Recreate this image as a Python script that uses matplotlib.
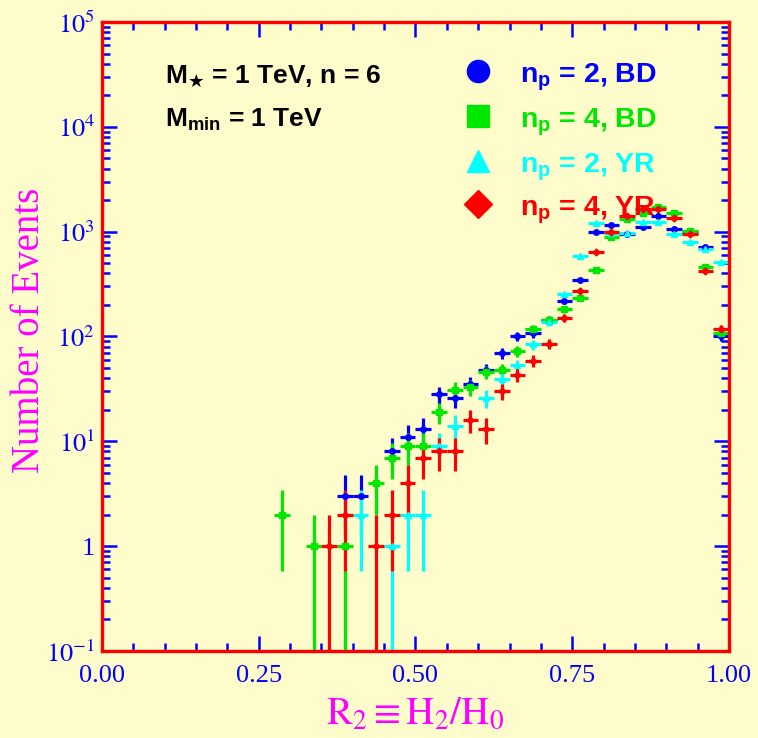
import numpy as np
import matplotlib
matplotlib.use("Agg")
import matplotlib.pyplot as plt
from matplotlib.ticker import FixedLocator, FixedFormatter, MultipleLocator, LogLocator, NullFormatter

plt.rcParams['font.family'] = ['Liberation Serif', 'DejaVu Serif']
plt.rcParams['mathtext.fontset'] = 'stix'
plt.rcParams['mathtext.rm'] = 'Liberation Sans'
plt.rcParams['mathtext.bf'] = 'Liberation Sans:bold'

# bin centres (bin width 0.025) and event counts, nan = empty bin
r2 = [0.2875, 0.3125, 0.3375, 0.3625, 0.3875, 0.4125, 0.4375, 0.4625, 0.4875,
      0.5125, 0.5375, 0.5625, 0.5875, 0.6125, 0.6375, 0.6625, 0.6875, 0.7125,
      0.7375, 0.7625, 0.7875, 0.8125, 0.8375, 0.8625, 0.8875, 0.9125, 0.9375,
      0.9625, 0.9875]
nan = np.nan
bd_np2 = [nan, nan, nan, nan, 3, 3, nan, 8, 11, 13, 28, 26, 35, 48, 69, 100, 107, 145,
          218, 346, 1000, 1150, 960, 1100, 1420, 1060, 1000, 710, 100]
bd_np4 = [2, nan, 1, nan, 1, nan, 4, 7, 9, 9, 19, 31, 33, 46, 48, 72, 117, 145,
          181, 233, 430, 880, 1330, 1500, 1730, 1500, 1010, 465, 107]
yr_np2 = [nan, nan, nan, nan, nan, 2, nan, 1, 2, 2, 9, 14, nan, 26, 39, 53, 84, 138,
          252, 591, 1215, 970, 970, 1240, 1240, 960, 805, 680, 518]
yr_np4 = [nan, nan, nan, 1, 2, nan, 1, 2, 4, 7, 8, 8, 16, 13, 30, 43, 59, 85,
          150, 272, 640, 1000, 1420, 1660, 1660, 1360, 946, 425, 118]
half_bin = 0.0125

series = [
    (bd_np2, '#0000ff', 'o', r'n$_{\mathbf{p}}$ = 2, BD'),
    (bd_np4, '#00e800', 's', r'n$_{\mathbf{p}}$ = 4, BD'),
    (yr_np2, '#00ffff', '^', r'n$_{\mathbf{p}}$ = 2, YR'),
    (yr_np4, '#ff0000', 'D', r'n$_{\mathbf{p}}$ = 4, YR'),
]

bg = '#fffccc'
fig = plt.figure(figsize=(7.58, 7.38), dpi=100, facecolor=bg)
ax = fig.add_axes([0.1346, 0.1179, 0.8271, 0.8523], facecolor=bg)

x = np.array(r2)
for counts, col, mk, lab in series:
    n = np.array(counts, dtype=float)
    ok = ~np.isnan(n)
    err = np.sqrt(n[ok])
    lo = np.minimum(err, n[ok] - 1e-3)
    ax.errorbar(x[ok], n[ok], yerr=[lo, err], xerr=half_bin, fmt=mk,
                ms=3.5 if mk == 'D' else 4,
                color=col, mec=col, elinewidth=2.3, capsize=0)

ax.set_yscale('log')
ax.set_xlim(0, 1)
ax.set_ylim(0.1, 1e5)

ax.xaxis.set_major_locator(FixedLocator([0, 0.25, 0.5, 0.75, 1.0]))
ax.xaxis.set_minor_locator(MultipleLocator(0.05))
ax.xaxis.set_major_formatter(FixedFormatter(['0.00', '0.25', '0.50', '0.75', '1.00']))

ydec = [0.1, 1, 10, 100, 1000, 1e4, 1e5]
ylabs = [r'$\mathrm{10^{-1}}$', '1', r'$\mathrm{10^{1}}$', r'$\mathrm{10^{2}}$',
         r'$\mathrm{10^{3}}$', r'$\mathrm{10^{4}}$', r'$\mathrm{10^{5}}$']
ax.yaxis.set_major_locator(FixedLocator(ydec))
ax.yaxis.set_major_formatter(FixedFormatter(ylabs))
ax.yaxis.set_minor_locator(LogLocator(base=10, subs=np.arange(2, 10)))
ax.yaxis.set_minor_formatter(NullFormatter())

ax.tick_params(which='both', direction='in', top=True, right=True, colors='#0000ff',
               labelsize=19)
ax.tick_params(which='major', length=11, width=1.8)
ax.tick_params(which='minor', length=5.5, width=1.8)
ax.tick_params(axis='x', pad=10)
ax.tick_params(axis='y', pad=5)

for s in ax.spines.values():
    s.set_color('#ff0000')
    s.set_linewidth(2.4)

ax.set_ylabel('Number of Events', color='#ff00ff', fontsize=28)
ax.yaxis.set_label_coords(-0.086, 0.51)
ax.set_xlabel(r'$\mathrm{R_2 \equiv H_2/H_0}$', color='#ff00ff', fontsize=28, labelpad=6)

def px_to_ax(py):
    return (651 - py) / 629.0

ax.text(0.10, px_to_ax(82), r'M$_{\bigstar}$ = 1 TeV, n = 6', transform=ax.transAxes,
        fontsize=19, fontweight='bold', family='Liberation Sans', color='black',
        math_fontfamily='dejavusans', va='baseline')
ax.text(0.10, px_to_ax(127), r'M$_{\mathbf{min}}$ = 1 TeV', transform=ax.transAxes,
        fontsize=19, fontweight='bold', family='Liberation Sans', color='black',
        math_fontfamily='custom', va='baseline')

rows = [82, 127, 172, 215]
for (counts, col, mk, lab), b in zip(series, rows):
    ax.plot([0.60], [px_to_ax(b - 11)], marker=mk, ms=16 if mk != 'D' else 14,
            color=col, transform=ax.transAxes, clip_on=False)
    ax.text(0.667, px_to_ax(b), lab, transform=ax.transAxes, fontsize=20.5,
            fontweight='bold', family='Liberation Sans', color=col,
            math_fontfamily='custom', va='baseline')

fig.savefig('out.png', dpi=100, facecolor=bg)
